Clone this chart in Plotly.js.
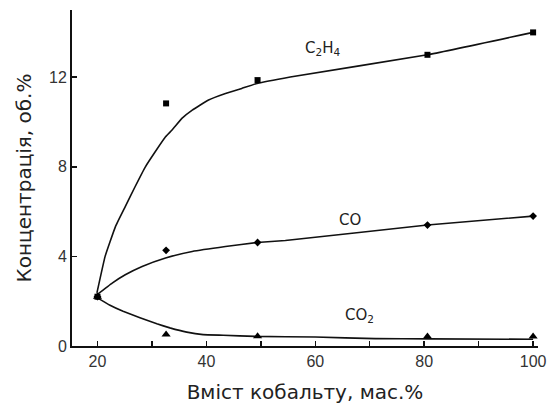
<!DOCTYPE html>
<html><head><meta charset="utf-8">
<script src="https://cdn.plot.ly/plotly-3.0.1.min.js"></script>
<style>html,body{margin:0;padding:0;background:#fff}#chart{width:548px;height:405px}</style>
</head><body><div id="chart"></div>
<script>
// measured points
var xPts = [20, 32.6, 49.4, 80.6, 100];
var c2h4 = [2.2, 10.83, 11.87, 13.0, 14.0];
var co = [2.2, 4.27, 4.62, 5.4, 5.8];
var co2 = [2.2, 0.51, 0.43, 0.42, 0.42];

// fitted curves
var c2h4FitX = [19.9, 21.4, 23.3, 25.1, 26.9, 28.8, 30.6, 32.5, 33.7, 35.5, 37.4, 40.4, 43.5, 46.5, 49.3, 55.4, 80.6, 100];
var c2h4FitY = [2.37, 4.0, 5.33, 6.22, 7.11, 8.0, 8.67, 9.34, 9.64, 10.16, 10.53, 10.98, 11.27, 11.5, 11.72, 12.01, 13.0, 14.0];
var coFitX = [19.9, 22.7, 25.1, 28.2, 32.5, 37.4, 43.5, 49.3, 54.5, 80.6, 100];
var coFitY = [2.29, 2.81, 3.18, 3.55, 3.93, 4.22, 4.44, 4.62, 4.71, 5.4, 5.8];
var co2FitX = [20, 22.3, 24.7, 27.8, 30.9, 33.3, 36.4, 39.4, 43.1, 49, 60, 71, 81, 100];
var co2FitY = [2.15, 1.82, 1.55, 1.26, 0.99, 0.81, 0.62, 0.51, 0.48, 0.43, 0.4, 0.33, 0.32, 0.3];

var labels = ['C<sub>2</sub>H<sub>4</sub>', 'CO', 'CO<sub>2</sub>'];
var labelX = [57.8, 64.0, 65.1];
var labelY = [13.3, 5.62, 1.35];

var lineStyle = {color: '#111', width: 1.6, shape: 'spline', smoothing: 0.3};
var traces = [
  {x: c2h4FitX, y: c2h4FitY, mode: 'lines', line: lineStyle},
  {x: coFitX, y: coFitY, mode: 'lines', line: lineStyle},
  {x: co2FitX, y: co2FitY, mode: 'lines', line: lineStyle},
  {x: xPts, y: c2h4, mode: 'markers', marker: {symbol: 'square', size: 6, color: '#000'}},
  {x: xPts, y: co, mode: 'markers', marker: {symbol: 'diamond', size: 6, color: '#000'}},
  {x: xPts, y: co2, mode: 'markers', marker: {symbol: 'triangle-up', size: 8, color: '#000'}}
];

var annotations = labels.map(function(t, i){
  return {x: labelX[i], y: labelY[i], xref: 'x', yref: 'y', xanchor: 'left', yanchor: 'middle',
          text: t, showarrow: false,
          font: {family: 'DejaVu Sans, sans-serif', size: 15, color: '#222'}};
});

var layout = {
  width: 548, height: 405,
  margin: {l: 72, r: 10, t: 10, b: 58.5},
  paper_bgcolor: '#fff', plot_bgcolor: '#fff',
  showlegend: false,
  font: {family: 'DejaVu Sans, sans-serif', color: '#222'},
  xaxis: {
    range: [15.32, 100.9], tickvals: [20, 40, 60, 80, 100],
    showgrid: false, zeroline: false, showline: true, linecolor: '#111', linewidth: 2,
    ticks: 'inside', ticklen: 5, tickwidth: 1.5, tickcolor: '#111',
    minor: {tickvals: [30, 50, 70, 90], ticks: 'inside', ticklen: 5, tickwidth: 1.5, tickcolor: '#111'},
    tickfont: {family: 'Liberation Sans, Arial, sans-serif', size: 16, color: '#333'},
    title: {text: 'Вміст кобальту, мас.%', font: {size: 20, color: '#222'}, standoff: 16}
  },
  yaxis: {
    range: [0, 15], tickvals: [0, 4, 8, 12],
    showgrid: false, zeroline: false, showline: true, linecolor: '#111', linewidth: 2,
    ticks: 'inside', ticklen: 5, tickwidth: 1.5, tickcolor: '#111',
    tickfont: {family: 'Liberation Sans, Arial, sans-serif', size: 16, color: '#333'},
    title: {text: 'Концентрація, об.%', font: {size: 20, color: '#222'}, standoff: 12}
  },
  annotations: annotations
};
Plotly.newPlot('chart', traces, layout, {displayModeBar: false, staticPlot: true});
</script></body></html>
